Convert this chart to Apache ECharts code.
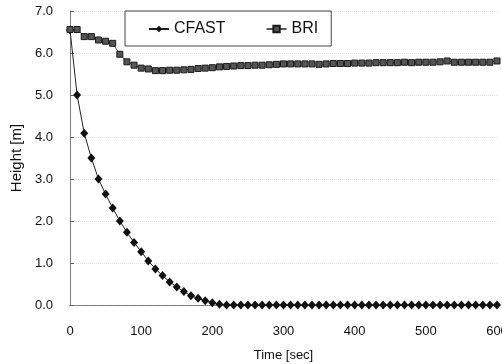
<!DOCTYPE html>
<html>
<head>
<meta charset="utf-8">
<script src="https://cdn.jsdelivr.net/npm/echarts@6/dist/echarts.min.js"></script>
<style>
  html, body { margin: 0; padding: 0; background: #fff; }
  #chart { width: 502px; height: 364px; }
</style>
</head>
<body>
<div id="chart"></div>
<script>
// time steps, every 10 s
const timeSec = [
  0, 10, 20, 30, 40, 50, 60, 70, 80, 90,
  100, 110, 120, 130, 140, 150, 160, 170, 180, 190,
  200, 210, 220, 230, 240, 250, 260, 270, 280, 290,
  300, 310, 320, 330, 340, 350, 360, 370, 380, 390,
  400, 410, 420, 430, 440, 450, 460, 470, 480, 490,
  500, 510, 520, 530, 540, 550, 560, 570, 580, 590, 600
];

const cfastHeight = [
  6.55, 5.0, 4.09, 3.5, 3.0, 2.64, 2.31, 2.0, 1.73, 1.49,
  1.27, 1.05, 0.86, 0.70, 0.55, 0.43, 0.32, 0.22, 0.16, 0.10,
  0.055, 0.02, 0, 0, 0, 0, 0, 0, 0, 0,
  0, 0, 0, 0, 0, 0, 0, 0, 0, 0,
  0, 0, 0, 0, 0, 0, 0, 0, 0, 0,
  0, 0, 0, 0, 0, 0, 0, 0, 0, 0, 0
];

const briHeight = [
  6.56, 6.56, 6.39, 6.39, 6.31, 6.28, 6.23, 5.97, 5.79, 5.71,
  5.64, 5.62, 5.58, 5.58, 5.59, 5.59, 5.60, 5.61, 5.63, 5.64,
  5.65, 5.67, 5.68, 5.69, 5.70, 5.70, 5.71, 5.71, 5.72, 5.73,
  5.74, 5.74, 5.74, 5.74, 5.74, 5.73, 5.74, 5.75, 5.75, 5.75,
  5.76, 5.76, 5.76, 5.77, 5.77, 5.77, 5.77, 5.78, 5.77, 5.78,
  5.78, 5.78, 5.79, 5.81, 5.78, 5.78, 5.78, 5.78, 5.78, 5.78, 5.81
];

const font = "'Liberation Sans', Arial, sans-serif";
const chart = echarts.init(document.getElementById('chart'));

const pairs = (ys) => timeSec.map((t, i) => [t, ys[i]]);

chart.setOption({
  animation: false,
  textStyle: { fontFamily: font, color: '#111' },
  // keep the plot box fixed; the "600" label is allowed to run off the edge
  grid: { left: 70, right: 5, top: 11, bottom: 59, outerBoundsMode: 'none' },
  legend: {
    left: 125,
    top: 11,
    padding: [10, 13, 9, 23],
    itemGap: 40,
    itemWidth: 20,
    itemHeight: 8,
    borderColor: '#444',
    borderWidth: 1,
    textStyle: { fontFamily: font, fontSize: 16, color: '#111' },
    data: ['CFAST', 'BRI']
  },
  xAxis: [
    {
      type: 'value',
      min: 0, max: 600, interval: 100,
      name: 'Time [sec]',
      nameLocation: 'middle',
      nameGap: 44,
      nameTextStyle: { fontFamily: font, fontSize: 13, color: '#111' },
      axisLine: { lineStyle: { color: '#555', width: 1 } },
      axisTick: { show: false },
      axisLabel: { margin: 20, fontFamily: font, fontSize: 13, color: '#111' },
      splitLine: { show: false }
    },
    {
      type: 'value', position: 'top',
      min: 0, max: 600,
      axisLine: { show: true, lineStyle: { color: '#888', type: 'dotted' } },
      axisTick: { show: false }, axisLabel: { show: false }, splitLine: { show: false }
    }
  ],
  yAxis: [
    {
      type: 'value',
      min: 0, max: 7, interval: 1,
      name: 'Height [m]',
      nameLocation: 'middle',
      nameGap: 46,
      nameTextStyle: { fontFamily: font, fontSize: 15, color: '#111' },
      axisLine: { show: true, lineStyle: { color: '#666', width: 1 } },
      axisTick: { show: true, inside: true, length: 4, lineStyle: { color: '#666' } },
      axisLabel: {
        margin: 17, fontFamily: font, fontSize: 13, color: '#111',
        formatter: (v) => v.toFixed(1)
      },
      splitLine: { show: true, lineStyle: { color: '#e2e2e2', type: 'dotted' } }
    },
    {
      type: 'value', position: 'right',
      min: 0, max: 7,
      axisLine: { show: true, lineStyle: { color: '#888', type: 'dotted' } },
      axisTick: { show: false }, axisLabel: { show: false }, splitLine: { show: false }
    }
  ],
  series: [
    {
      name: 'CFAST',
      type: 'line',
      data: pairs(cfastHeight),
      symbol: 'diamond',
      symbolSize: [8, 9],
      itemStyle: { color: '#111' },
      lineStyle: { color: '#222', width: 1 }
    },
    {
      name: 'BRI',
      type: 'line',
      data: pairs(briHeight),
      symbol: 'rect',
      symbolSize: 6,
      itemStyle: { color: '#555', borderColor: '#1a1a1a', borderWidth: 1 },
      lineStyle: { color: '#555', width: 1 }
    }
  ]
});
</script>
</body>
</html>
